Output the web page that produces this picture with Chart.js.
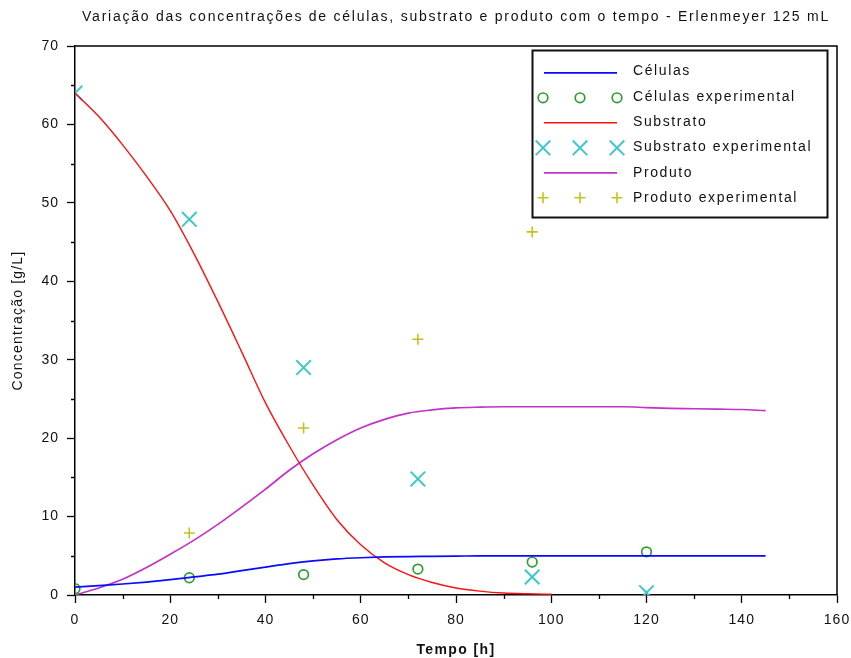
<!DOCTYPE html>
<html>
<head>
<meta charset="utf-8">
<script src="https://cdn.jsdelivr.net/npm/chart.js@4/dist/chart.umd.min.js"></script>
<style>
  html, body { margin: 0; padding: 0; background: #ffffff; }
  #wrap { width: 851px; height: 658px; position: relative; }
  canvas { display: block; }
</style>
</head>
<body>
<div id="wrap"><canvas id="c" width="851" height="658"></canvas></div>
<script>
// ---- Data ----
const chartTitle = 'Variação das concentrações de células, substrato e produto com o tempo - Erlenmeyer 125 mL';
const xAxisTitle = 'Tempo [h]';
const yAxisTitle = 'Concentração [g/L]';
const seriesNames = ['Células', 'Células experimental', 'Substrato', 'Substrato experimental', 'Produto', 'Produto experimental'];

// model time grid (h)
const tModel = [0,5,10,15,20,25,30,35,40,45,50,55,60,65,70,75,80,85,90,95,100,105,110,115,120,125,130,135,140,145];
const cellsModel = [1.0,1.2,1.4,1.65,1.95,2.3,2.65,3.1,3.55,4.0,4.35,4.6,4.75,4.85,4.9,4.92,4.95,5.0,5.0,5.0,5.0,5.0,5.0,5.0,5.0,5.0,5.0,5.0,5.0,5.0];
const prodModel = [0,0.9,2.0,3.5,5.2,7.0,9.0,11.2,13.5,15.9,18.0,19.8,21.3,22.4,23.2,23.6,23.85,23.95,24.0,24.0,24.0,24.0,24.0,24.0,23.9,23.8,23.75,23.7,23.65,23.5];
const tSub = [0,5,10,15,20,25,30,35,40,45,50,55,60,65,70,75,80,85,90,95,100];
const subModel = [64.0,61.0,57.4,53.4,49.0,43.5,37.4,31.0,24.5,19.0,14.0,9.6,6.4,4.1,2.6,1.6,0.9,0.5,0.25,0.15,0.1];

// experimental
const tExp = [0,24,48,72,96,120];
const cellsExp = [0.8,2.2,2.6,3.3,4.2,5.5];
const subExp = [64.0,47.9,29.0,14.8,2.3,0.3];
const tProdExp = [24,48,72,96];
const prodExp = [7.9,21.3,32.6,46.3];

// axes
const xMin = 0, xMax = 160, xMajor = 20, xMinor = 10;
const yMin = 0, yMax = 70, yMajor = 10, yMinor = 5;

const toXY = (xs, ys) => xs.map((x, i) => ({x: x, y: ys[i]}));

const FONT = '"Liberation Sans", Arial, sans-serif';

const colors = {
  cells: '#0a0aff', cellsExp: '#2e9e2e',
  sub: '#ff1010', subExp: '#3ec8cc',
  prod: '#c431c8', prodExp: '#c2c21c'
};

function drawMarker(ctx, style, x, y, r, color, lw) {
  ctx.save();
  ctx.strokeStyle = color;
  ctx.lineWidth = lw;
  ctx.beginPath();
  if (style === 'circle') {
    ctx.arc(x, y, r, 0, Math.PI * 2);
  } else if (style === 'crossRot') {
    const d = r * Math.SQRT1_2;
    ctx.moveTo(x - d, y - d); ctx.lineTo(x + d, y + d);
    ctx.moveTo(x + d, y - d); ctx.lineTo(x - d, y + d);
  } else if (style === 'cross') {
    ctx.moveTo(x - r, y); ctx.lineTo(x + r, y);
    ctx.moveTo(x, y - r); ctx.lineTo(x, y + r);
  }
  ctx.stroke();
  ctx.restore();
}

function withSpacing(obj, name, spacing, ctxGetter) {
  if (!obj || obj['_ls_' + name]) return;
  const orig = obj[name].bind(obj);
  obj[name] = function () {
    const ctx = ctxGetter();
    ctx.save();
    ctx.letterSpacing = spacing;
    const r = orig.apply(null, arguments);
    ctx.restore();
    return r;
  };
  obj['_ls_' + name] = true;
}

const decor = {
  id: 'decor',
  afterLayout(chart) {
    const g = () => chart.ctx;
    withSpacing(chart.titleBlock, 'draw', '1.75px', g);
    withSpacing(chart.scales.x, 'drawTitle', '1.4px', g);
    withSpacing(chart.scales.y, 'drawTitle', '1.2px', g);
  },
  beforeDraw(chart) {
    chart.ctx.letterSpacing = '1px';
  },
  afterDraw(chart) {
    const ctx = chart.ctx;
    const a = chart.chartArea;
    const xs = chart.scales.x, ys = chart.scales.y;
    ctx.save();
    ctx.strokeStyle = '#000';
    ctx.lineWidth = 1.5;
    ctx.beginPath();
    ctx.moveTo(a.left, a.top); ctx.lineTo(a.right, a.top); ctx.lineTo(a.right, a.bottom);
    ctx.stroke();
    // minor ticks
    ctx.lineWidth = 1.3;
    ctx.beginPath();
    for (let v = xMin + xMinor; v < xMax; v += xMajor) {
      const px = Math.round(xs.getPixelForValue(v)) + 0.5;
      ctx.moveTo(px, a.bottom); ctx.lineTo(px, a.bottom + 4);
    }
    for (let v = yMin + yMinor; v < yMax; v += yMajor) {
      const py = Math.round(ys.getPixelForValue(v)) + 0.5;
      ctx.moveTo(a.left, py); ctx.lineTo(a.left - 4, py);
    }
    ctx.stroke();

    // legend box
    const bx = 532.5, by = 50.5, bw = 295, bh = 167;
    ctx.fillStyle = '#fff';
    ctx.fillRect(bx, by, bw, bh);
    ctx.lineWidth = 2;
    ctx.strokeStyle = '#111';
    ctx.strokeRect(bx, by, bw, bh);
    ctx.font = '14px ' + FONT;
    ctx.letterSpacing = '1.6px';
    ctx.textBaseline = 'middle';
    ctx.textAlign = 'left';
    chart.data.datasets.forEach((ds, i) => {
      const y = 72.8 + i * 25;
      if (ds.showLine) {
        ctx.strokeStyle = ds.borderColor;
        ctx.lineWidth = ds.borderWidth;
        ctx.beginPath();
        ctx.moveTo(544, y); ctx.lineTo(617, y);
        ctx.stroke();
      } else {
        [543, 580, 617].forEach(mx => drawMarker(ctx, ds.pointStyle, mx, y, ds.pointRadius, ds.pointBorderColor, ds.pointBorderWidth));
      }
      ctx.fillStyle = '#111';
      ctx.fillText(ds.label, 633, 71.5 + i * 25.3);
    });
    ctx.restore();
  }
};

const lineDs = (label, xs, ys, color, w) => ({
  label, data: toXY(xs, ys), showLine: true, borderColor: color, borderWidth: w,
  pointRadius: 0, pointHoverRadius: 0, cubicInterpolationMode: 'monotone', fill: false, clip: 0
});
const markDs = (label, xs, ys, color, style, r, lw) => ({
  label, data: toXY(xs, ys), showLine: false, pointStyle: style, pointRadius: r,
  pointBorderColor: color, pointBackgroundColor: 'rgba(0,0,0,0)', pointBorderWidth: lw,
  borderColor: color, backgroundColor: 'rgba(0,0,0,0)', clip: 0
});

new Chart(document.getElementById('c'), {
  type: 'scatter',
  data: {
    datasets: [
      lineDs(seriesNames[0], tModel, cellsModel, colors.cells, 1.7),
      markDs(seriesNames[1], tExp, cellsExp, colors.cellsExp, 'circle', 4.8, 1.7),
      lineDs(seriesNames[2], tSub, subModel, colors.sub, 1.4),
      markDs(seriesNames[3], tExp, subExp, colors.subExp, 'crossRot', 10.3, 2),
      lineDs(seriesNames[4], tModel, prodModel, colors.prod, 1.7),
      markDs(seriesNames[5], tProdExp, prodExp, colors.prodExp, 'cross', 5.5, 1.6)
    ]
  },
  options: {
    responsive: false,
    animation: false,
    devicePixelRatio: 1,
    layout: { padding: { left: 0, right: 14, top: 0, bottom: 0 } },
    plugins: {
      legend: { display: false },
      tooltip: { enabled: false },
      title: {
        display: true, text: chartTitle, fullSize: false,
        color: '#111',
        font: { family: FONT, size: 14, weight: 'normal', lineHeight: 1 },
        padding: { top: 10.5, bottom: 21.5 }
      }
    },
    scales: {
      x: {
        type: 'linear', min: xMin, max: xMax,
        afterFit(s) { s.height = 63; s.paddingLeft = 0; s.paddingRight = 0; },
        ticks: { stepSize: xMajor, color: '#111', font: { family: FONT, size: 14 }, padding: 9, maxRotation: 0 },
        grid: { drawOnChartArea: false, drawTicks: true, tickLength: 8, tickColor: '#000', tickWidth: 1.3, color: '#000' },
        border: { display: true, color: '#000', width: 1.5 },
        title: { display: true, text: xAxisTitle, color: '#111', font: { family: FONT, size: 14, weight: 'bold', lineHeight: 1.1 }, padding: { top: 0, bottom: 0 } }
      },
      y: {
        type: 'linear', min: yMin, max: yMax,
        afterFit(s) { s.width = 75; s.paddingTop = 0; s.paddingBottom = 0; },
        ticks: { stepSize: yMajor, color: '#111', font: { family: FONT, size: 14 }, padding: 8 },
        grid: { drawOnChartArea: false, drawTicks: true, tickLength: 8, tickColor: '#000', tickWidth: 1.3, color: '#000' },
        border: { display: true, color: '#000', width: 1.5 },
        title: { display: true, text: yAxisTitle, color: '#111', font: { family: FONT, size: 14, weight: 'normal', lineHeight: 1.1 }, padding: { top: 10, bottom: 0 } }
      }
    }
  },
  plugins: [decor]
});
</script>
</body>
</html>
